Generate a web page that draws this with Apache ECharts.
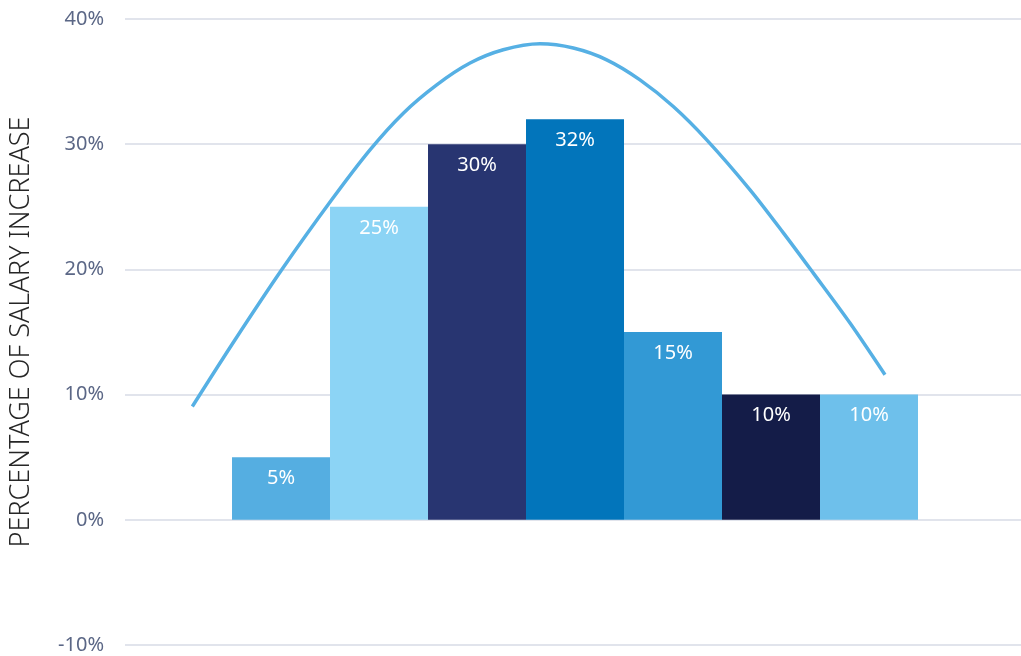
<!DOCTYPE html>
<html>
<head>
<meta charset="utf-8">
<script src="https://cdn.jsdelivr.net/npm/echarts@6/dist/echarts.min.js"></script>
<style>html,body{margin:0;padding:0;background:#fff;}#chart{width:1021px;height:656px;}</style>
</head>
<body>
<div id="chart"></div>
<script>
// Bar positions (bin index) and values (%)
var binPositions = [0, 1, 2, 3, 4, 5, 6];
var barValues = [5, 25, 30, 32, 15, 10, 10];
var barColors = ['#55AEE1', '#8CD4F5', '#283571', '#0275BB', '#3299D5', '#141C48', '#6EC0EB'];
// Curve points: x in bin units, y in %
var curveX = [-0.905, -0.469, 0.007, 0.517, 0.908, 1.248, 1.589, 1.929, 2.268, 2.643, 2.983, 3.323, 3.663, 4.003, 4.344, 4.786, 5.126, 5.432, 5.806, 6.163];
var curveY = [9.05, 14.38, 19.97, 25.56, 29.55, 32.48, 34.74, 36.48, 37.54, 38.02, 37.68, 36.74, 35.14, 33.01, 30.35, 26.36, 22.92, 19.70, 15.71, 11.58];
var yTicks = [-10, 0, 10, 20, 30, 40];
var yAxisTitle = 'PERCENTAGE OF SALARY INCREASE';

var chart = echarts.init(document.getElementById('chart'), null, {renderer: 'canvas'});
var fontFam = '"Noto Sans", "Open Sans", sans-serif';
var barData = binPositions.map(function (p, i) {
  return {value: [p, barValues[i]], itemStyle: {color: barColors[i]}};
});
var curveData = curveX.map(function (x, i) { return [x, curveY[i]]; });

chart.setOption({
  animation: false,
  grid: {left: 125, right: 0, top: 19, bottom: 11, containLabel: false},
  xAxis: {
    type: 'value', min: -1.592, max: 7.551,
    show: false, splitLine: {show: false}
  },
  yAxis: {
    type: 'value', min: yTicks[0], max: yTicks[yTicks.length - 1], interval: 10,
    name: yAxisTitle, nameLocation: 'middle', nameGap: 90, nameRotate: 90,
    nameTextStyle: {fontSize: 27, color: '#262626', fontFamily: fontFam, fontWeight: 300},
    axisLine: {show: false}, axisTick: {show: false},
    axisLabel: {formatter: '{value}%', fontSize: 20, color: '#5B6786', margin: 21, fontFamily: fontFam},
    splitLine: {lineStyle: {color: '#E1E4EC', width: 2}}
  },
  series: [
    {
      type: 'bar', data: barData, barWidth: 98, z: 2,
      label: {
        show: true, position: 'insideTop', distance: 11,
        formatter: function (p) { return p.value[1] + '%'; },
        color: '#ffffff', fontSize: 20, fontFamily: fontFam
      }
    },
    {
      type: 'line', data: curveData, smooth: 0.3, showSymbol: false, z: 3,
      lineStyle: {color: '#56B0E4', width: 3.5}
    }
  ]
});
</script>
</body>
</html>
